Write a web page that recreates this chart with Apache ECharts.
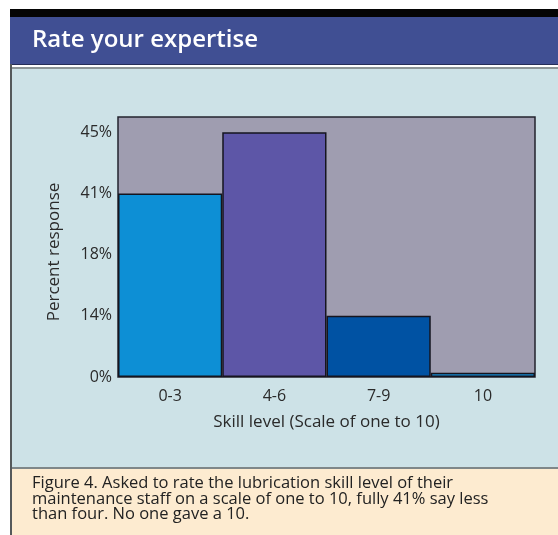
<!DOCTYPE html>
<html>
<head>
<meta charset="utf-8">
<script src="https://cdn.jsdelivr.net/npm/echarts@6/dist/echarts.min.js"></script>
<style>
  html, body { margin: 0; padding: 0; background: #fff; }
  #chart { width: 558px; height: 535px; }
</style>
</head>
<body>
<div id="chart"></div>
<script>
// data
const skillLevels = ['0-3', '4-6', '7-9', '10'];
const percentResponse = [41, 45, 14, 1];
const yTickLabels = [0, 14, 18, 41, 45]; // the printed axis is not linear: one step per label
const barColors = ['#0d8fd5', '#5d56a7', '#0052a3', '#168ad0'];

// place a percent on the stepped axis (between the two labels around it)
const toStep = (v) => {
  for (let i = 0; i < yTickLabels.length - 1; i++) {
    if (v <= yTickLabels[i + 1]) {
      return i + (v - yTickLabels[i]) / (yTickLabels[i + 1] - yTickLabels[i]);
    }
  }
  return yTickLabels.length - 1;
};

const chart = echarts.init(document.getElementById('chart'));

const font = '"Open Sans", "Noto Sans", sans-serif';

const option = {
  animation: false,
  textStyle: { fontFamily: font },
  graphic: [
    // frame
    { type: 'rect', z: -10, shape: { x: 10, y: 9, width: 548, height: 8 }, style: { fill: '#050505' } },
    { type: 'rect', z: -10, shape: { x: 10, y: 17, width: 548, height: 47 }, style: { fill: '#404f93' } },
    { type: 'rect', z: -10, shape: { x: 10, y: 64, width: 548, height: 1 }, style: { fill: '#252d58' } },
    { type: 'rect', z: -10, shape: { x: 10, y: 67, width: 548, height: 2 }, style: { fill: '#8c9597' } },
    { type: 'rect', z: -10, shape: { x: 10, y: 69, width: 548, height: 398 }, style: { fill: '#cde2e7' } },
    { type: 'rect', z: -10, shape: { x: 10, y: 467, width: 548, height: 2 }, style: { fill: '#7f8789' } },
    { type: 'rect', z: -10, shape: { x: 10, y: 469, width: 548, height: 66 }, style: { fill: '#fdebd0' } },
    { type: 'rect', z: -9, shape: { x: 10, y: 64, width: 2, height: 471 }, style: { fill: '#55595b' } },
    {
      type: 'text', z: 10, left: 32, top: 28,
      style: { text: 'Rate your expertise', fill: '#ffffff', font: '600 24px ' + font }
    },
    {
      type: 'text', z: 10, left: 32, top: 475,
      style: {
        text: 'Figure 4. Asked to rate the lubrication skill level of their\nmaintenance staff on a scale of one to 10, fully 41% say less\nthan four. No one gave a 10.',
        fill: '#222', font: '16.5px ' + font, lineHeight: 15.5
      }
    }
  ],
  grid: {
    left: 118, right: 23, top: 117, bottom: 158,
    show: true,
    backgroundColor: '#9f9db0',
    borderColor: '#23232e',
    borderWidth: 1.5
  },
  xAxis: {
    type: 'category',
    data: skillLevels,
    axisLine: { show: false },
    axisTick: { show: false },
    axisLabel: { color: '#2a2a2a', fontSize: 16, margin: 11 },
    name: 'Skill level (Scale of one to 10)',
    nameLocation: 'middle',
    nameGap: 37,
    nameTextStyle: { color: '#2a2a2a', fontSize: 17 }
  },
  yAxis: {
    type: 'value',
    min: 0,
    max: 4.25,
    interval: 1,
    axisLine: { show: false },
    axisTick: { show: false },
    splitLine: { show: false },
    axisLabel: {
      color: '#2a2a2a', fontSize: 16, margin: 6,
      formatter: (v) => (Number.isInteger(v) && v < yTickLabels.length ? yTickLabels[v] + '%' : '')
    },
    name: 'Percent response',
    nameLocation: 'middle',
    nameGap: 55,
    nameTextStyle: { color: '#2a2a2a', fontSize: 17, padding: [0, 10, 0, 0] }
  },
  series: [{
    type: 'bar',
    barCategoryGap: '0%',
    data: percentResponse.map((p, i) => ({
      value: toStep(p),
      itemStyle: { color: barColors[i] }
    })),
    itemStyle: { borderColor: '#15151f', borderWidth: 1.5 }
  }]
};

chart.setOption(option);
</script>
</body>
</html>
